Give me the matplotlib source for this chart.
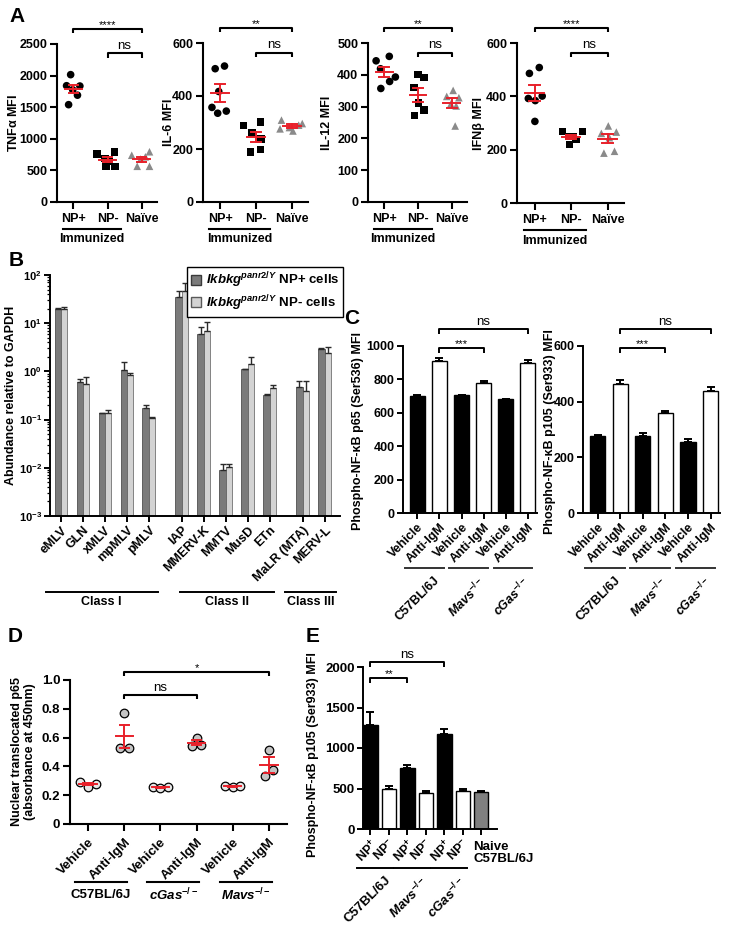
import matplotlib
matplotlib.use('Agg')
import matplotlib.pyplot as plt
import matplotlib.transforms as mtransforms
from matplotlib.patches import Patch
from matplotlib.ticker import LogLocator, NullFormatter
import numpy as np

plt.rcParams['font.family'] = ['Liberation Sans', 'DejaVu Sans']
plt.rcParams['font.weight'] = 'bold'
plt.rcParams['axes.labelweight'] = 'bold'
plt.rcParams['mathtext.fontset'] = 'custom'
plt.rcParams['mathtext.rm'] = 'Liberation Sans:bold'
plt.rcParams['mathtext.it'] = 'Liberation Sans:italic'
plt.rcParams['mathtext.bf'] = 'Liberation Sans:bold'
plt.rcParams['mathtext.bfit'] = 'Liberation Sans:italic:bold'

# ---------------- data ----------------
# panel A: cytokine MFI per mouse (NP+, NP-, naive)
a_groups = ['NP+', 'NP-', 'Naïve']
tnfa = [[2015, 1840, 1835, 1775, 1690, 1540],
        [755, 690, 790, 640, 560, 560],
        [740, 795, 680, 565, 565, 715]]
il6 = [[503, 513, 417, 357, 335, 343],
       [288, 303, 260, 237, 189, 198],
       [309, 296, 281, 276, 268, 290]]
il12 = [[444, 458, 419, 379, 393, 357],
        [401, 392, 360, 311, 289, 272],
        [351, 332, 328, 308, 302, 239]]
ifnb = [[486, 508, 392, 401, 384, 306],
        [268, 268, 219, 238, 249, 250],
        [289, 261, 266, 187, 194, 245]]

# panel B: ERV abundance relative to GAPDH
erv_names = ['eMLV', 'GLN', 'xMLV', 'mpMLV', 'pMLV', 'IAP', 'MMERV-K', 'MMTV',
             'MusD', 'ETn', 'MaLR (MTA)', 'MERV-L']
erv_np_pos = [19.4, 0.61, 0.134, 1.06, 0.173, 35.5, 6.1, 0.0089, 1.1, 0.327, 0.48, 2.9]
erv_np_pos_err = [0.9, 0.1, 0.006, 0.5, 0.027, 11, 2.4, 0.0029, 0.02, 0.005, 0.16, 0.1]
erv_np_neg = [20, 0.54, 0.14, 0.84, 0.109, 47.3, 6.9, 0.0105, 1.42, 0.45, 0.39, 2.36]
erv_np_neg_err = [1.5, 0.21, 0.017, 0.1, 0.002, 19.7, 3.7, 0.0015, 0.58, 0.07, 0.25, 0.84]
erv_classes = ['Class I', 'Class II', 'Class III']

# panel C: phospho NF-kB after anti-IgM
c_treat = ['Vehicle', 'Anti-IgM'] * 3
c_strains = ['C57BL/6J', r'$\mathbfit{Mavs}^{\mathit{-/-}}$', r'$\mathbfit{cGas}^{\mathit{-/-}}$']
p65_mfi = [700, 910, 705, 780, 680, 900]
p65_sem = [5, 20, 4, 12, 5, 18]
p105_mfi = [275, 463, 277, 360, 255, 438]
p105_sem = [6, 15, 9, 7, 10, 15]

# panel D: nuclear p65 (3 replicates per condition)
d_treat = ['Vehicle', 'Anti-IgM'] * 3
d_strains = ['C57BL/6J', r'$\mathbfit{cGas}^{\mathit{-/-}}$', r'$\mathbfit{Mavs}^{\mathit{-/-}}$']
p65_abs = [[0.29, 0.26, 0.28], [0.77, 0.53, 0.53],
           [0.26, 0.25, 0.26], [0.60, 0.545, 0.55],
           [0.265, 0.255, 0.265], [0.515, 0.335, 0.375]]

# panel E: p105 in NP+/NP- cells
e_ticks = [r'NP$^{+}$', r'NP$^{-}$'] * 3 + ['']
e_strains = ['C57BL/6J', r'$\mathbfit{Mavs}^{\mathit{-/-}}$', r'$\mathbfit{cGas}^{\mathit{-/-}}$']
p105_np = [1290, 495, 750, 445, 1170, 470, 455]
p105_np_sem = [160, 30, 45, 25, 65, 30, 15]

# ---------------- layout helpers ----------------
W, H = 730, 925
fig = plt.figure(figsize=(W / 100, H / 100), dpi=100)
RED = '#e8202a'


def add_ax(l, t, r, b):
    return fig.add_axes([l / W, 1 - b / H, (r - l) / W, (b - t) / H])


def style(ax, lw=1.4, size=9):
    for s in ['top', 'right']:
        ax.spines[s].set_visible(False)
    for s in ['left', 'bottom']:
        ax.spines[s].set_linewidth(lw)
    ax.tick_params(width=lw, length=4, labelsize=size, pad=2)


def blend(ax):
    return mtransforms.blended_transform_factory(ax.transData, ax.transAxes)


def bracket(ax, x1, x2, y, text, drop=0.028, size=9.5, pad=0.008, lw=1.4):
    tr = blend(ax)
    ax.plot([x1, x1, x2, x2], [y - drop, y, y, y - drop], color='black', lw=lw,
            transform=tr, clip_on=False, solid_capstyle='butt')
    ax.text((x1 + x2) / 2, y + pad, text, transform=tr, ha='center', va='bottom',
            fontsize=size, fontweight='normal')


def underline(ax, x1, x2, y, lw=1.4, color='black'):
    ax.plot([x1, x2], [y, y], color=color, lw=lw, transform=blend(ax), clip_on=False)


def mean_sem(ax, x, vals, half=0.25, cap=0.14, lw=1.4):
    m = np.mean(vals)
    s = np.std(vals, ddof=1) / np.sqrt(len(vals))
    ax.plot([x - half, x + half], [m, m], color=RED, lw=lw, zorder=5)
    ax.plot([x, x], [m - s, m + s], color=RED, lw=lw, zorder=5)
    for yv in (m - s, m + s):
        ax.plot([x - cap, x + cap], [yv, yv], color=RED, lw=lw, zorder=5)


# ---------------- panel A ----------------
a_offsets = {
    'tnfa': [[-0.08, -0.2, 0.19, -0.02, 0.12, -0.14],
             [-0.3, -0.08, 0.21, 0.05, -0.05, 0.22],
             [-0.29, 0.23, -0.03, -0.13, 0.23, 0.11]],
    'il6': [[-0.14, 0.12, -0.04, -0.23, -0.07, 0.17],
            [-0.35, 0.12, -0.12, 0.14, -0.15, 0.13],
            [-0.29, 0.29, -0.07, -0.33, 0.03, 0.19]],
    'il12': [[-0.24, 0.15, -0.11, 0.16, 0.33, -0.1],
             [0.0, 0.17, -0.12, 0.02, 0.17, -0.1],
             [0.04, -0.15, 0.21, -0.03, 0.13, 0.1]],
    'ifnb': [[-0.14, 0.13, -0.17, 0.21, 0.02, 0.01],
             [-0.23, 0.31, -0.04, 0.14, -0.07, 0.05],
             [0.02, -0.17, 0.24, -0.1, 0.19, 0.05]],
}
a_panels = [
    ('tnfa', tnfa, r'TNF$\mathbf{\alpha}$ MFI', 2500, 500, '****', (57, 44, 157, 202), -0.37),
    ('il6', il6, 'IL-6 MFI', 600, 200, '**', (203, 43, 308, 202), -0.27),
    ('il12', il12, 'IL-12 MFI', 500, 100, '**', (368, 43, 467, 202), -0.35),
    ('ifnb', ifnb, 'IFNβ MFI', 600, 200, '****', (517, 43, 624, 203), -0.30),
]
markers = ['o', 's', '^']
mcolors = ['black', 'black', '#8a8a8a']
for key, data, ylab, ymax, step, stars, rect, labx in a_panels:
    ax = add_ax(*rect)
    style(ax, lw=1.5, size=9)
    ax.tick_params(length=5)
    for i, vals in enumerate(data):
        xs = i + np.array(a_offsets[key][i])
        ax.scatter(xs, vals, marker=markers[i], s=30, color=mcolors[i],
                   edgecolors='none', zorder=3, clip_on=False)
        mean_sem(ax, i, vals)
    ax.set_xlim(-0.48, 2.45)
    ax.set_ylim(0, ymax)
    ax.set_yticks(np.arange(0, ymax + 1, step))
    ax.set_xticks([0, 1, 2])
    ax.set_xticklabels(a_groups)
    ax.tick_params(axis='x', pad=3)
    ax.set_ylabel(ylab, fontsize=9)
    ax.yaxis.set_label_coords(labx, 0.5)
    bracket(ax, 0, 2, 1.095, stars, size=8, pad=-0.005, lw=1.5)
    bracket(ax, 1, 2, 0.94, 'ns', size=9.5, lw=1.5)
    underline(ax, -0.3, 1.4, -0.17, lw=1.5)
    ax.text(0.55, -0.235, 'Immunized', transform=blend(ax), ha='center', va='center',
            fontsize=9)

# ---------------- panel B ----------------
b_pos = np.array([0, 1, 2, 3, 4, 5.5, 6.5, 7.5, 8.5, 9.5, 11, 12])
bw = 0.29
ax = add_ax(50, 275, 340, 516)
style(ax, lw=1.4, size=8)
ax.set_yscale('log')
floor = 1e-3
ax.bar(b_pos - bw / 2, np.array(erv_np_pos) - floor, bw, bottom=floor, color='#7b7b7b',
       edgecolor='#3a3a3a', linewidth=0.5, zorder=2)
ax.bar(b_pos + bw / 2, np.array(erv_np_neg) - floor, bw, bottom=floor, color='#d3d3d3',
       edgecolor='#5a5a5a', linewidth=0.5, zorder=2)
ax.errorbar(b_pos - bw / 2, erv_np_pos, yerr=[np.zeros(len(b_pos)), erv_np_pos_err],
            fmt='none', ecolor='#2a2a2a', elinewidth=1, capsize=2.5, capthick=1, zorder=3)
ax.errorbar(b_pos + bw / 2, erv_np_neg, yerr=[np.zeros(len(b_pos)), erv_np_neg_err],
            fmt='none', ecolor='#2a2a2a', elinewidth=1, capsize=2.5, capthick=1, zorder=3)
ax.set_ylim(1e-3, 1e2)
ax.set_xlim(-0.5, 12.7)
ax.set_yticks([1e-3, 1e-2, 1e-1, 1e0, 1e1, 1e2])
ax.set_yticklabels([r'10$^{-3}$', r'10$^{-2}$', r'10$^{-1}$', r'10$^{0}$', r'10$^{1}$', r'10$^{2}$'])
ax.yaxis.set_minor_locator(LogLocator(base=10, subs=np.arange(2, 10)))
ax.yaxis.set_minor_formatter(NullFormatter())
ax.tick_params(axis='y', which='minor', length=2.5, width=0.9)
ax.set_xticks(b_pos)
ax.set_xticklabels(erv_names, rotation=45, ha='right', rotation_mode='anchor', fontsize=9)
ax.set_ylabel('Abundance relative to GAPDH', fontsize=9)
ax.yaxis.set_label_coords(-0.115, 0.5)
for name, (x1, x2) in zip(erv_classes, [(-0.7, 4.4), (5.4, 9.7), (10.2, 12.5)]):
    underline(ax, x1, x2, -0.315, lw=1.4)
    ax.text((x1 + x2) / 2, -0.355, name, transform=blend(ax), ha='center', va='center',
            fontsize=9)
leg = ax.legend(handles=[Patch(facecolor='#7b7b7b', edgecolor='#3a3a3a'),
                         Patch(facecolor='#d3d3d3', edgecolor='#5a5a5a')],
                labels=[r'$\mathbfit{Ikbkg}^{\mathit{panr2/Y}}$ NP+ cells',
                        r'$\mathbfit{Ikbkg}^{\mathit{panr2/Y}}$ NP- cells'],
                loc='upper right', bbox_to_anchor=(1.02, 1.045), fancybox=False,
                edgecolor='black', framealpha=1, fontsize=9.5, handlelength=0.8,
                handleheight=0.8, handletextpad=0.35, borderpad=0.3, labelspacing=0.2,
                borderaxespad=0.2)
leg.get_frame().set_linewidth(1.0)

# ---------------- panel C ----------------
c_colors = ['black', 'white'] * 3
for vals, sem, ymax, ylab, rect, labx in [
        (p65_mfi, p65_sem, 1000, 'Phospho-NF-κB p65 (Ser536) MFI', (403, 346, 537, 513), -0.29),
        (p105_mfi, p105_sem, 600, 'Phospho-NF-κB p105 (Ser933) MFI', (583, 346, 720, 513), -0.20)]:
    ax = add_ax(*rect)
    style(ax, lw=1.4, size=9)
    xs = np.arange(len(vals))
    ax.bar(xs, vals, 0.68, color=c_colors, edgecolor='black', linewidth=1.0, zorder=2)
    ax.errorbar(xs, vals, yerr=[np.zeros(len(vals)), sem], fmt='none', ecolor='black',
                elinewidth=1.4, capsize=3, capthick=1.4, zorder=3)
    ax.set_xlim(-0.65, 5.42)
    ax.set_ylim(0, ymax)
    ax.set_yticks(np.arange(0, ymax + 1, 200))
    ax.set_xticks(xs)
    ax.set_xticklabels(c_treat, rotation=45, ha='right', rotation_mode='anchor', fontsize=9)
    ax.set_ylabel(ylab, fontsize=9)
    ax.yaxis.set_label_coords(labx, 0.49)
    bracket(ax, 1, 5, 1.10, 'ns', size=9.5, lw=1.4)
    bracket(ax, 1, 3, 0.988, '***', size=8, pad=-0.005, lw=1.4)
    for g, name in enumerate(c_strains):
        underline(ax, 2 * g - 0.55, 2 * g + 1.2, -0.33, lw=1.4, color='#333333')
        ax.text(2 * g + 0.75, -0.37, name, transform=blend(ax), rotation=45,
                rotation_mode='anchor', ha='right', va='top', fontsize=9)

# ---------------- panel D ----------------
d_offsets = [[-0.21, 0.0, 0.21], [0.0, -0.12, 0.12]]
ax = add_ax(70, 680, 287, 824)
style(ax, lw=1.5, size=9.5)
ax.tick_params(length=5)
for i, vals in enumerate(p65_abs):
    xs = i + np.array(d_offsets[i % 2])
    face = '#e6e6e6' if i % 2 == 0 else '#c4c4c4'
    ax.scatter(xs, vals, s=38, facecolor=face, edgecolor='black', linewidth=0.9, zorder=3)
    mean_sem(ax, i, vals, half=0.24, cap=0.13)
ax.set_xlim(-0.5, 5.5)
ax.set_ylim(0, 1.0)
ax.set_yticks([0, 0.2, 0.4, 0.6, 0.8, 1.0])
ax.set_yticklabels(['0', '0.2', '0.4', '0.6', '0.8', '1.0'])
ax.set_xticks(range(6))
ax.set_xticklabels(d_treat, rotation=45, ha='right', rotation_mode='anchor', fontsize=9.5)
ax.tick_params(axis='x', pad=4)
ax.set_ylabel('Nuclear translocated p65\n(absorbance at 450nm)', fontsize=9)
ax.yaxis.set_label_coords(-0.155, 0.5)
bracket(ax, 1, 5, 1.056, '*', size=8, pad=-0.005, lw=1.5)
bracket(ax, 1, 3, 0.896, 'ns', size=9.5, lw=1.5)
for g, name in enumerate(d_strains):
    underline(ax, 2 * g - 0.36, 2 * g + 1.08, -0.40, lw=1.5)
    ax.text(2 * g + 0.36, -0.49, name, transform=blend(ax), ha='center', va='center',
            fontsize=9.5)

# ---------------- panel E ----------------
e_colors = ['black', 'white', 'black', 'white', 'black', 'white', '#808080']
ax = add_ax(363, 667, 497, 829)
style(ax, lw=1.4, size=9.5)
xs = np.arange(len(p105_np))
ax.bar(xs, p105_np, 0.78, color=e_colors, edgecolor='black', linewidth=1.0, zorder=2)
ax.errorbar(xs, p105_np, yerr=[np.zeros(len(xs)), p105_np_sem], fmt='none', ecolor='black',
            elinewidth=1.4, capsize=3, capthick=1.4, zorder=3)
ax.set_xlim(-0.4, 6.85)
ax.set_ylim(0, 2000)
ax.set_yticks([0, 500, 1000, 1500, 2000])
ax.set_xticks(xs)
ax.set_xticklabels(e_ticks, rotation=45, ha='right', rotation_mode='anchor', fontsize=9)
ax.set_ylabel('Phospho-NF-κB p105 (Ser933) MFI', fontsize=9)
ax.yaxis.set_label_coords(-0.33, 0.46)
ax.text(5.57, -0.15, 'Naive\nC57BL/6J', transform=blend(ax), ha='left', va='center',
        fontsize=9.5, linespacing=1.0)
bracket(ax, 0, 4, 1.03, 'ns', size=9.5, lw=1.4)
bracket(ax, 0, 2, 0.93, '**', size=8, pad=-0.005, lw=1.4)
for g, name in enumerate(e_strains):
    underline(ax, 2 * g - 0.7, 2 * g + 1.2, -0.24, lw=1.4)
    ax.text(2 * g + 0.75, -0.28, name, transform=blend(ax), rotation=45,
            rotation_mode='anchor', ha='right', va='top', fontsize=9.5)

# ---------------- panel letters ----------------
for letter, x, y in [('A', 17, 16), ('B', 16, 260), ('C', 352, 318), ('D', 15, 637), ('E', 313, 637)]:
    fig.text(x / W, 1 - y / H, letter, fontsize=15, fontweight='bold', ha='center', va='center')

fig.savefig('out.png', dpi=100)
